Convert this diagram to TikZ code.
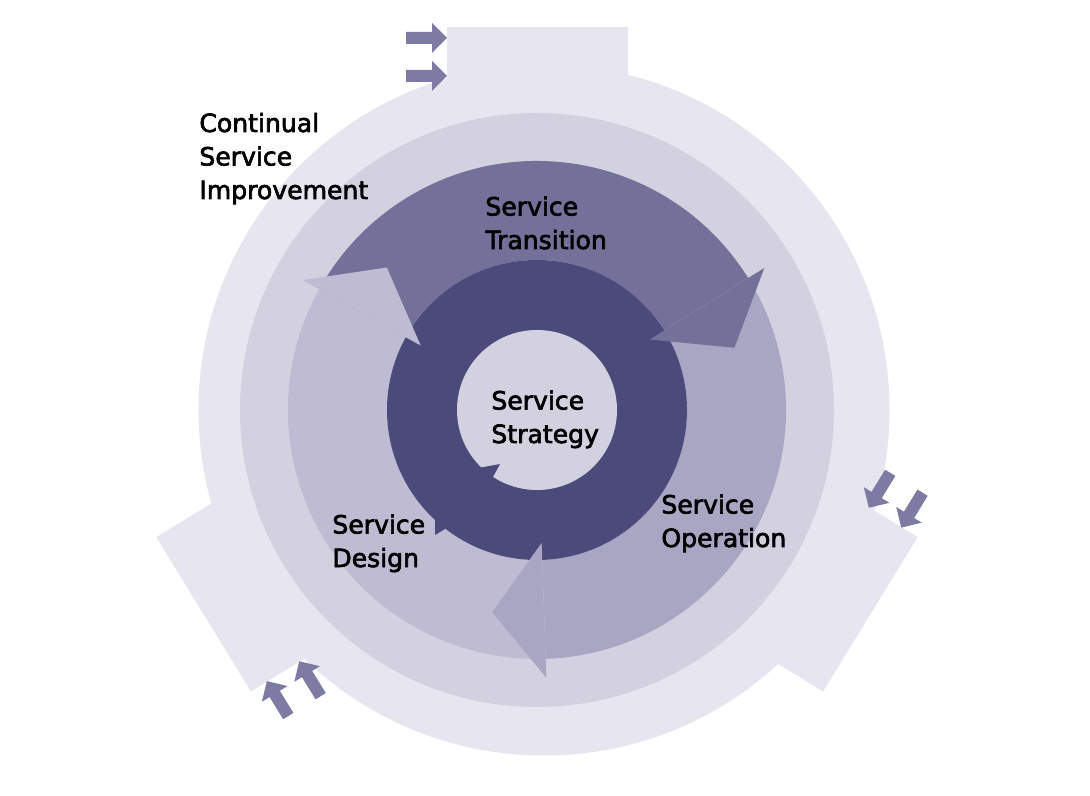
\documentclass[tikz,border=0pt]{standalone}
\usepackage{fontspec}
\setmainfont{DejaVu Sans}[FakeBold=2.5]

\definecolor{csiCol}{HTML}{E6E5F0}
\definecolor{midCol}{HTML}{D3D1E0}
\definecolor{transCol}{HTML}{737099}
\definecolor{operCol}{HTML}{A9A6C4}
\definecolor{designCol}{HTML}{BEBBD2}
\definecolor{strategyCol}{HTML}{4B4A7A}
\definecolor{feedCol}{HTML}{7D7AA3}

\begin{document}
\begin{tikzpicture}[
x=0.5pt, y=0.5pt,
stage/.style={inner sep=0pt, anchor=base west, align=left, text=black, font=\fontsize{12.55}{16.75}\selectfont},
feed/.pic={\fill[feedCol] (-20.5,-6) -- (5.5,-6) -- (5.5,-15) -- (20.5,0) -- (5.5,15) -- (5.5,6) -- (-20.5,6) -- cycle;}
]
\useasboundingbox (-537,-386) rectangle (553,410);

% tabs of the outer ring
\foreach \t/\r in {90/383, 211.5/391, 328.5/391}
  \fill[csiCol, rotate=\t-90] (-90.5,250) rectangle (90.5,\r);

\fill[csiCol] (7,0) circle[radius=345.5];
\fill[midCol] (0,0) circle[radius=297];

% input arrows beside the tabs
\foreach \t in {90, 211.5, 328.5} {
  \begin{scope}[rotate=\t-90, transform shape]
    \pic at (-110.5,372) {feed};
    \pic at (-110.5,334) {feed};
  \end{scope}
}

% the three lifecycle arrows
\foreach \s/\e/\c in {151/32/transCol, 32/-88/operCol, -88/-209/designCol}
  \fill[\c] (\s:150) arc[start angle=\s, end angle=\e, radius=150] -- (\e:249) arc[start angle=\e, end angle=\s, radius=249] -- cycle;

\fill[strategyCol] (0,0) circle[radius=150];
\fill[midCol] (0,0) circle[radius=80];

\foreach \b/\c in {32/transCol, -88/operCol, 151/designCol}
  \fill[\c] (\b:133) -- (\b-14.5:207) -- (\b:268) -- cycle;

\fill[strategyCol] (-92,-119) -- (-102,-125) -- (-102,-66) -- (-37,-54) -- (-44,-67) -- cycle;

\node (csi) [stage] at (-338,211) {Continual\\Service\\Improvement};
\node (transition) [stage] at (-52,161) {Service\\Transition};
\node (strategy) [stage] at (-46,-33) {Service\\Strategy};
\node (design) [stage] at (-205,-157) {Service\\Design};
\node (operation) [stage] at (124,-137) {Service\\Operation};

\end{tikzpicture}
\end{document}
